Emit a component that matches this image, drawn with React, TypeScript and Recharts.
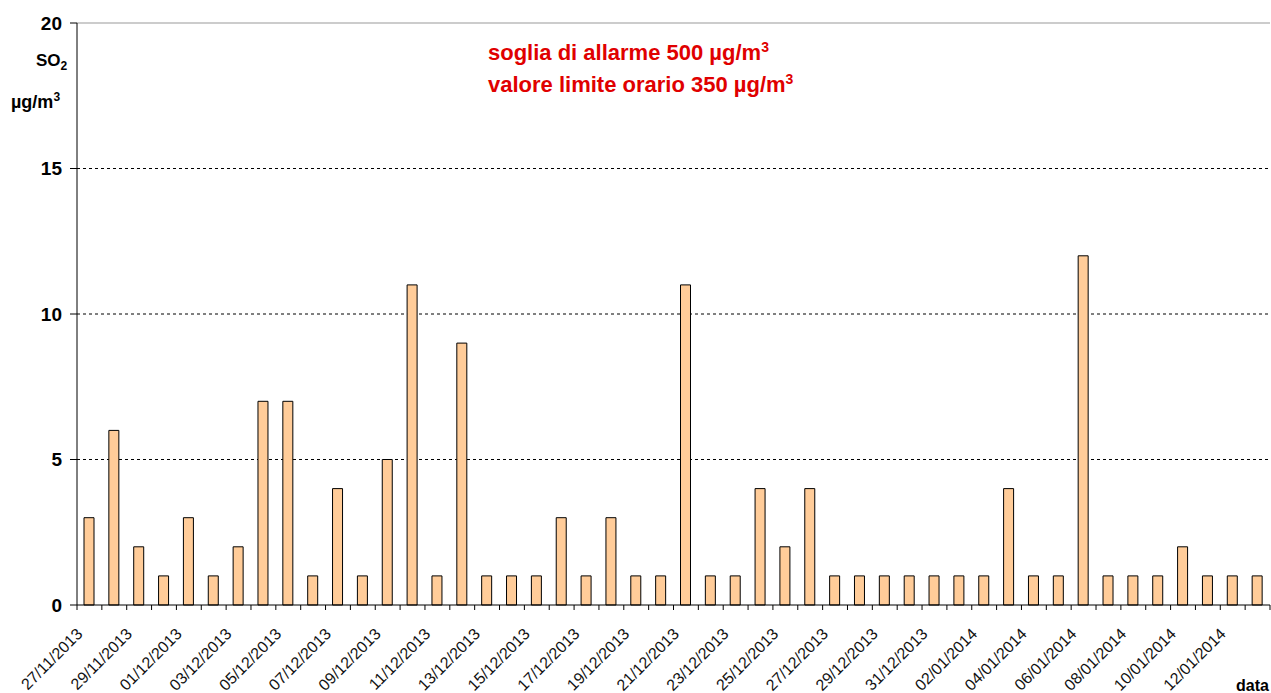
import React from "react";
import {
  BarChart,
  Bar,
  XAxis,
  YAxis,
  CartesianGrid,
  ReferenceLine,
} from "recharts";

const dates = [
  "27/11/2013", "28/11/2013", "29/11/2013", "30/11/2013",
  "01/12/2013", "02/12/2013", "03/12/2013", "04/12/2013", "05/12/2013",
  "06/12/2013", "07/12/2013", "08/12/2013", "09/12/2013", "10/12/2013",
  "11/12/2013", "12/12/2013", "13/12/2013", "14/12/2013", "15/12/2013",
  "16/12/2013", "17/12/2013", "18/12/2013", "19/12/2013", "20/12/2013",
  "21/12/2013", "22/12/2013", "23/12/2013", "24/12/2013", "25/12/2013",
  "26/12/2013", "27/12/2013", "28/12/2013", "29/12/2013", "30/12/2013",
  "31/12/2013", "01/01/2014", "02/01/2014", "03/01/2014", "04/01/2014",
  "05/01/2014", "06/01/2014", "07/01/2014", "08/01/2014", "09/01/2014",
  "10/01/2014", "11/01/2014", "12/01/2014", "13/01/2014",
];

const so2 = [
  3, 6, 2, 1,
  3, 1, 2, 7, 7,
  1, 4, 1, 5, 11,
  1, 9, 1, 1, 1,
  3, 1, 3, 1, 1,
  11, 1, 1, 4, 2,
  4, 1, 1, 1, 1,
  1, 1, 1, 4, 1,
  1, 12, 1, 1, 1,
  2, 1, 1, 1,
];

const yTicks = [0, 5, 10, 15, 20];
const gridValues = [5, 10, 15];

const data = dates.map((d, i) => ({ date: d, so2: so2[i] }));

const W = 1271;
const H = 693;
const LEFT = 77;
const RIGHT = 1;
const band = (W - LEFT - RIGHT) / dates.length;
const font = "Arial, 'Liberation Sans', sans-serif";

function DateTick(props: any) {
  const { x, y, payload, index } = props;
  const i = index ?? payload?.index ?? 0;
  return (
    <g>
      <line x1={x - band / 2} y1={y} x2={x - band / 2} y2={y + 5} stroke="#000" />
      {i === dates.length - 1 && (
        <line x1={x + band / 2} y1={y} x2={x + band / 2} y2={y + 5} stroke="#000" />
      )}
      {i % 2 === 0 && (
        <text
          x={x - 6}
          y={y + 30}
          textAnchor="end"
          transform={`rotate(-45 ${x - 6} ${y + 30})`}
          fontSize={16}
          fontFamily={font}
          fill="#111"
        >
          {payload.value}
        </text>
      )}
    </g>
  );
}

export default function App() {
  return (
    <div style={{ position: "absolute", left: 0, top: 0, width: W, height: H, background: "#fff", fontFamily: font }}>
      <BarChart
        width={W}
        height={H}
        data={data}
        margin={{ top: 23, right: RIGHT, left: 0, bottom: 0 }}
        barSize={10}
      >
        <CartesianGrid
          vertical={false}
          horizontalValues={gridValues}
          stroke="#000"
          strokeDasharray="3 3"
        />
        <XAxis
          dataKey="date"
          interval={0}
          height={88}
          tickLine={false}
          tickSize={0}
          tickMargin={0}
          axisLine={{ stroke: "#000" }}
          tick={<DateTick />}
        />
        <YAxis
          domain={[0, 20]}
          ticks={yTicks}
          width={LEFT}
          tickSize={7}
          tickMargin={8}
          axisLine={{ stroke: "#000" }}
          tickLine={{ stroke: "#000" }}
          tick={{ fontSize: 19, fontWeight: "bold", fill: "#000", fontFamily: font }}
        />
        <YAxis
          yAxisId="r"
          orientation="right"
          width={0}
          domain={[0, 20]}
          tick={false}
          tickLine={false}
          axisLine={{ stroke: "#999" }}
        />
        <ReferenceLine y={20} stroke="#999" />
        <Bar
          dataKey="so2"
          fill="#FFCC99"
          stroke="#000"
          strokeWidth={1}
          isAnimationActive={false}
        />
      </BarChart>
      <div style={{ position: "absolute", left: 36, top: 51, fontSize: 17, fontWeight: "bold", color: "#000", lineHeight: "20px" }}>
        SO<sub style={{ fontSize: 12 }}>2</sub>
      </div>
      <div style={{ position: "absolute", left: 11, top: 87, fontSize: 18, fontWeight: "bold", color: "#000", lineHeight: "20px" }}>
        µg/m<sup style={{ fontSize: 12 }}>3</sup>
      </div>
      <div style={{ position: "absolute", left: 488, top: 34, fontSize: 22, fontWeight: "bold", color: "#e00000", lineHeight: "27px" }}>
        <div>soglia di allarme 500 µg/m<sup style={{ fontSize: 14 }}>3</sup></div>
        <div>valore limite orario 350 µg/m<sup style={{ fontSize: 14 }}>3</sup></div>
      </div>
      <div style={{ position: "absolute", left: 1236, top: 677, fontSize: 16, fontWeight: "bold", color: "#000" }}>
        data
      </div>
    </div>
  );
}
